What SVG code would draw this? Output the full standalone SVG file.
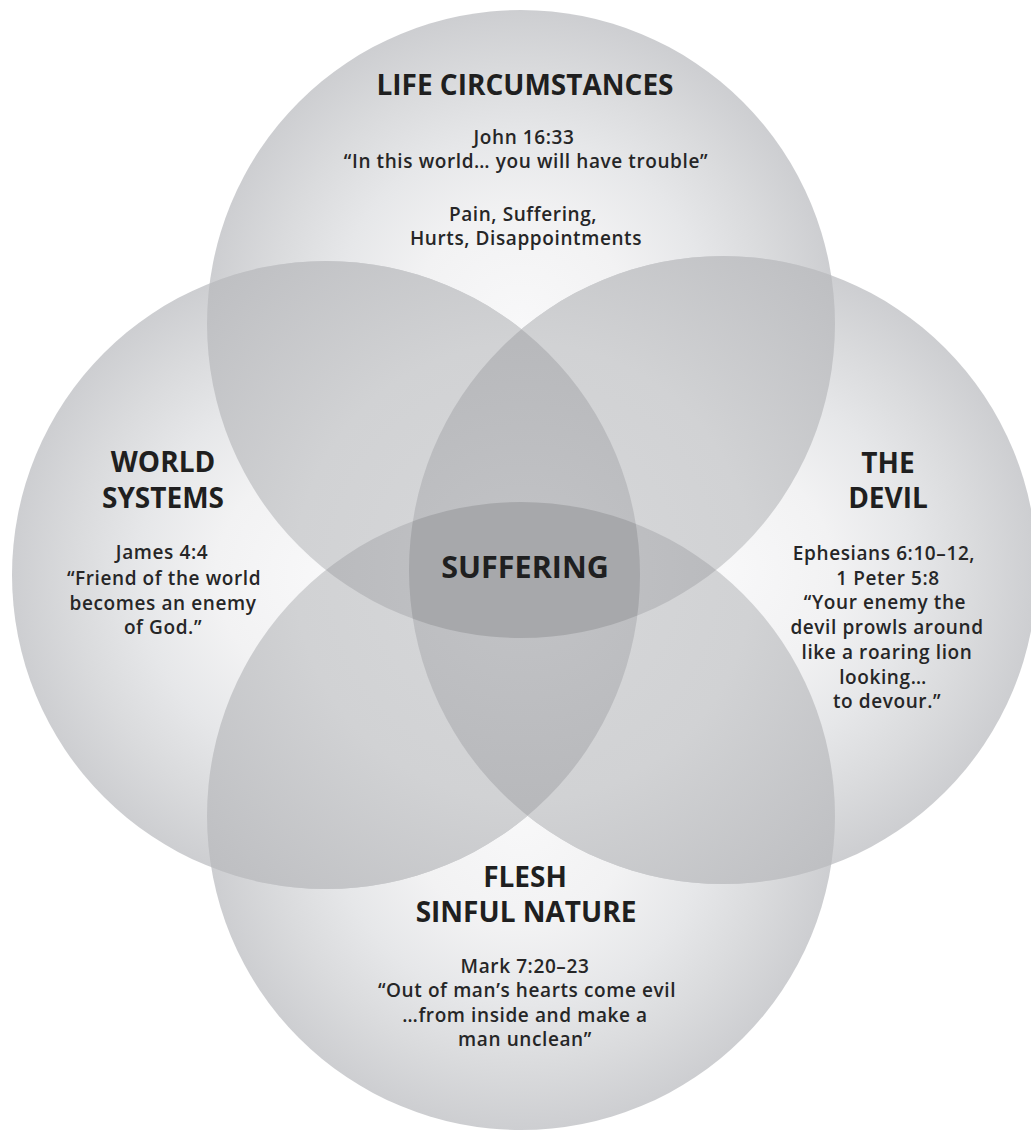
<svg xmlns="http://www.w3.org/2000/svg" width="1031" height="1132" viewBox="0 0 1031 1132">
<style>
.t{font-family:"Open Sans","Noto Sans","Liberation Sans",sans-serif;font-weight:700;font-size:28px;fill:#1f1f20;text-anchor:middle}
.b{font-family:"Open Sans","Noto Sans","Liberation Sans",sans-serif;font-weight:600;font-size:19px;letter-spacing:0.6px;fill:#262627;text-anchor:middle}
</style>
<defs>
<radialGradient id="gc" cx="0.5" cy="0.5" r="0.5">
<stop offset="0" stop-color="#f8f8f9"/>
<stop offset="0.35" stop-color="#f2f2f3"/>
<stop offset="0.6" stop-color="#e6e7e9"/>
<stop offset="0.8" stop-color="#dadbdd"/>
<stop offset="1" stop-color="#cdced1"/>
</radialGradient>
<radialGradient id="g2" gradientUnits="userSpaceOnUse" cx="524" cy="572" r="440">
<stop offset="0" stop-color="#d7d8da"/>
<stop offset="0.52" stop-color="#d1d2d4"/>
<stop offset="0.92" stop-color="#c0c1c4"/>
<stop offset="1" stop-color="#bdbec1"/>
</radialGradient>
<radialGradient id="g3" gradientUnits="userSpaceOnUse" cx="524" cy="572" r="250">
<stop offset="0" stop-color="#c3c4c7"/>
<stop offset="1" stop-color="#b7b8bb"/>
</radialGradient>
<clipPath id="cT"><circle cx="521" cy="324" r="314"/></clipPath>
<clipPath id="cB"><circle cx="521" cy="816" r="314"/></clipPath>
<clipPath id="cL"><circle cx="326" cy="575" r="314"/></clipPath>
<clipPath id="cR"><circle cx="723" cy="570" r="314"/></clipPath>
</defs>
<rect width="1031" height="1132" fill="#ffffff"/>
<g id="circles" fill="url(#gc)">
<circle id="circle-top" cx="521" cy="324" r="314"/>
<circle id="circle-bottom" cx="521" cy="816" r="314"/>
<circle id="circle-left" cx="326" cy="575" r="314"/>
<circle id="circle-right" cx="723" cy="570" r="314"/>
</g>
<g id="overlap-2" fill="url(#g2)">
<circle cx="521" cy="324" r="314" clip-path="url(#cL)"/>
<circle cx="521" cy="324" r="314" clip-path="url(#cR)"/>
<circle cx="521" cy="816" r="314" clip-path="url(#cL)"/>
<circle cx="521" cy="816" r="314" clip-path="url(#cR)"/>
</g>
<g id="overlap-3" fill="url(#g3)">
<circle cx="326" cy="575" r="314" clip-path="url(#cR)"/>
<circle cx="521" cy="324" r="314" clip-path="url(#cB)"/>
</g>
<g id="overlap-4" clip-path="url(#cL)">
<g clip-path="url(#cR)">
<circle cx="521" cy="324" r="314" clip-path="url(#cB)" fill="#a7a8ab"/>
</g>
</g>
<g id="node-life">
<text class="t" x="525" y="95">LIFE CIRCUMSTANCES</text>
<text class="b" x="524" y="144">John 16:33</text>
<text class="b" x="526" y="168">“In this world… you will have trouble”</text>
<text class="b" x="523" y="221">Pain, Suffering,</text>
<text class="b" x="526" y="245">Hurts, Disappointments</text>
</g>
<g id="node-world">
<text class="t" x="163" y="472">WORLD</text>
<text class="t" x="163" y="508">SYSTEMS</text>
<text class="b" x="162" y="559">James 4:4</text>
<text class="b" x="164" y="585">“Friend of the world</text>
<text class="b" x="163" y="610">becomes an enemy</text>
<text class="b" x="163" y="634">of God.”</text>
</g>
<g id="node-devil">
<text class="t" x="888" y="473">THE</text>
<text class="t" x="888" y="508">DEVIL</text>
<text class="b" x="884" y="560">Ephesians 6:10–12,</text>
<text class="b" x="888" y="585">1 Peter 5:8</text>
<text class="b" x="885" y="609">“Your enemy the</text>
<text class="b" x="887" y="634">devil prowls around</text>
<text class="b" x="887" y="659">like a roaring lion</text>
<text class="b" x="883" y="684">looking…</text>
<text class="b" x="887" y="708">to devour.”</text>
</g>
<g id="node-flesh">
<text class="t" x="525" y="887">FLESH</text>
<text class="t" x="526" y="922">SINFUL NATURE</text>
<text class="b" x="525" y="973">Mark 7:20–23</text>
<text class="b" x="527" y="997">“Out of man’s hearts come evil</text>
<text class="b" x="525" y="1022">…from inside and make a</text>
<text class="b" x="525" y="1046">man unclean”</text>
</g>
<g id="node-suffering">
<text class="t" x="525" y="578" style="font-size:30.5px">SUFFERING</text>
</g>
<g id="connectors"/>
</svg>
